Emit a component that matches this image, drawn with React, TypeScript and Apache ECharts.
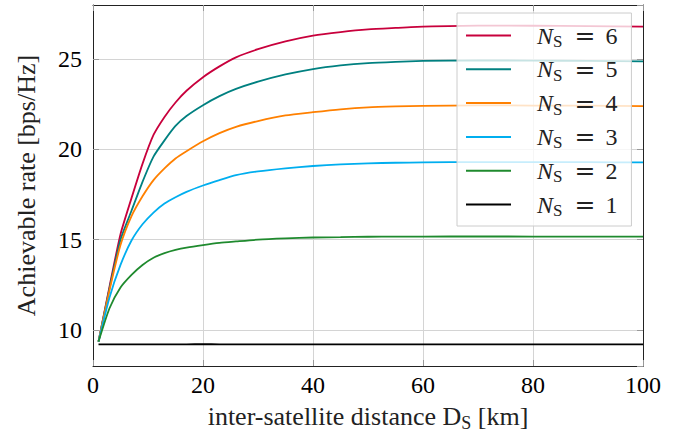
import React, { useEffect, useRef } from "react";
import * as echarts from "echarts";

const X = [1, 3, 5, 7, 9, 11, 13, 15, 17, 20, 23, 26, 30, 35, 40, 45, 50, 55, 60, 70, 80, 90, 100];
const N6 = [9.35, 12.4, 15.3, 17.3, 19.2, 20.8, 21.8, 22.6, 23.25, 24.0, 24.6, 25.1, 25.55, 25.98, 26.3, 26.5, 26.65, 26.73, 26.8, 26.86, 26.85, 26.83, 26.8];
const N5 = [9.35, 12.3, 15.0, 16.6, 18.2, 19.6, 20.5, 21.3, 21.85, 22.45, 22.95, 23.35, 23.75, 24.15, 24.45, 24.65, 24.78, 24.85, 24.9, 24.93, 24.92, 24.9, 24.88];
const N4 = [9.35, 12.2, 14.7, 16.3, 17.4, 18.3, 18.95, 19.5, 19.9, 20.45, 20.9, 21.25, 21.57, 21.88, 22.06, 22.22, 22.33, 22.38, 22.41, 22.44, 22.43, 22.42, 22.4];
const N3 = [9.35, 11.8, 13.6, 14.95, 15.85, 16.5, 17.0, 17.35, 17.65, 18.0, 18.3, 18.57, 18.78, 18.95, 19.08, 19.17, 19.23, 19.26, 19.28, 19.3, 19.3, 19.29, 19.28];
const N2 = [9.35, 11.2, 12.35, 13.05, 13.6, 14.0, 14.25, 14.43, 14.56, 14.7, 14.82, 14.9, 15.0, 15.07, 15.12, 15.14, 15.16, 15.17, 15.17, 15.18, 15.17, 15.17, 15.17];
const N1 = [9.2, 9.2, 9.2, 9.2, 9.2, 9.2, 9.2, 9.2, 9.2, 9.21, 9.2, 9.2, 9.2, 9.2, 9.2, 9.2, 9.2, 9.2, 9.2, 9.2, 9.2, 9.2, 9.2];

const NS_VALUES = [6, 5, 4, 3, 2, 1];
const SERIES_DATA = [N6, N5, N4, N3, N2, N1];
const COLORS = ["#c8003c", "#008080", "#ff8000", "#00aeef", "#1f8a2e", "#000000"];

const X_TITLE = "inter-satellite distance D{sub|S} [km]";
const Y_TITLE = "Achievable rate [bps/Hz]";

const FONT = "Liberation Serif";

export default function App() {
  const ref = useRef<HTMLDivElement>(null);
  useEffect(() => {
    if (!ref.current) return;
    const chart = echarts.init(ref.current, null, { renderer: "svg" });
    const names = NS_VALUES.map((n) => `NS = ${n}`);
    const tickStyle = { inside: true, length: 6, lineStyle: { color: "#999", width: 1 } };
    const frame = { show: true, onZero: false, lineStyle: { color: "#222", width: 1 } };
    const option: any = {
      animation: false,
      textStyle: { fontFamily: FONT },
      grid: { left: 93, top: 5, right: 50, bottom: 75 },
      legend: {
        orient: "vertical",
        left: 457,
        top: 13,
        data: names,
        icon: "rect",
        itemWidth: 45,
        itemHeight: 2,
        itemGap: 4.8,
        padding: [8, 14, 7, 9],
        backgroundColor: "rgba(255,255,255,0.78)",
        borderColor: "#cccccc",
        borderWidth: 1,
        borderRadius: 0,
        formatter: (name: string) => {
          const v = name.split("= ")[1];
          return `{n|N}{s|S}{e|=}{v|${v}}`;
        },
        textStyle: {
          fontFamily: FONT,
          lineHeight: 28,
          padding: [0, 0, 0, 21],
          rich: {
            n: { fontFamily: FONT, fontStyle: "italic", fontSize: 24, lineHeight: 28, verticalAlign: "middle", color: "#222" },
            s: { fontFamily: FONT, fontSize: 17, lineHeight: 16, padding: [12, 0, 0, 0], verticalAlign: "middle", color: "#222" },
            e: { fontFamily: "DejaVu Serif", fontSize: 25, lineHeight: 28, padding: [0, 10, 0, 12], verticalAlign: "middle", color: "#222" },
            v: { fontFamily: FONT, fontSize: 24, lineHeight: 28, verticalAlign: "middle", color: "#222" },
          },
        },
      },
      xAxis: [
        {
          type: "value",
          min: 0,
          max: 100,
          interval: 20,
          position: "bottom",
          axisLine: frame,
          axisTick: tickStyle,
          splitLine: { show: true, lineStyle: { color: "#d4d4d4", width: 1 } },
          axisLabel: { fontFamily: FONT, fontSize: 24, color: "#000", margin: 7 },
          name: X_TITLE,
          nameLocation: "middle",
          nameGap: 34,
          nameTextStyle: {
            fontFamily: FONT,
            fontSize: 26,
            lineHeight: 30,
            color: "#222",
            rich: { sub: { fontFamily: FONT, fontSize: 18, lineHeight: 16, padding: [12, 0, 0, 0], color: "#222" } },
          },
        },
        {
          type: "value",
          min: 0,
          max: 100,
          interval: 20,
          position: "top",
          axisLine: frame,
          axisTick: tickStyle,
          axisLabel: { show: false },
          splitLine: { show: false },
        },
      ],
      yAxis: [
        {
          type: "value",
          min: 8,
          max: 28,
          splitNumber: 5,
          position: "left",
          axisLine: frame,
          axisTick: tickStyle,
          splitLine: { show: true, lineStyle: { color: "#d4d4d4", width: 1 } },
          axisLabel: { fontFamily: FONT, fontSize: 24, color: "#000", margin: 11, showMinLabel: false, showMaxLabel: false },
          name: Y_TITLE,
          nameLocation: "middle",
          nameGap: 54,
          nameTextStyle: { fontFamily: FONT, fontSize: 26, color: "#222" },
        },
        {
          type: "value",
          min: 8,
          max: 28,
          splitNumber: 5,
          position: "right",
          axisLine: frame,
          axisTick: tickStyle,
          axisLabel: { show: false },
          splitLine: { show: false },
        },
      ],
      series: SERIES_DATA.map((vals, i) => ({
        type: "line",
        name: names[i],
        xAxisIndex: 0,
        yAxisIndex: 0,
        data: X.map((x, j) => [x, vals[j]]),
        showSymbol: false,
        symbol: "none",
        smooth: 0.2,
        color: COLORS[i],
        lineStyle: { color: COLORS[i], width: 1.8 },
        z: 2,
      })),
    };
    chart.setOption(option);
    return () => chart.dispose();
  }, []);
  return (
    <div
      ref={ref}
      style={{ position: "fixed", left: 0, top: 0, width: 693, height: 441, background: "#fff" }}
    />
  );
}
